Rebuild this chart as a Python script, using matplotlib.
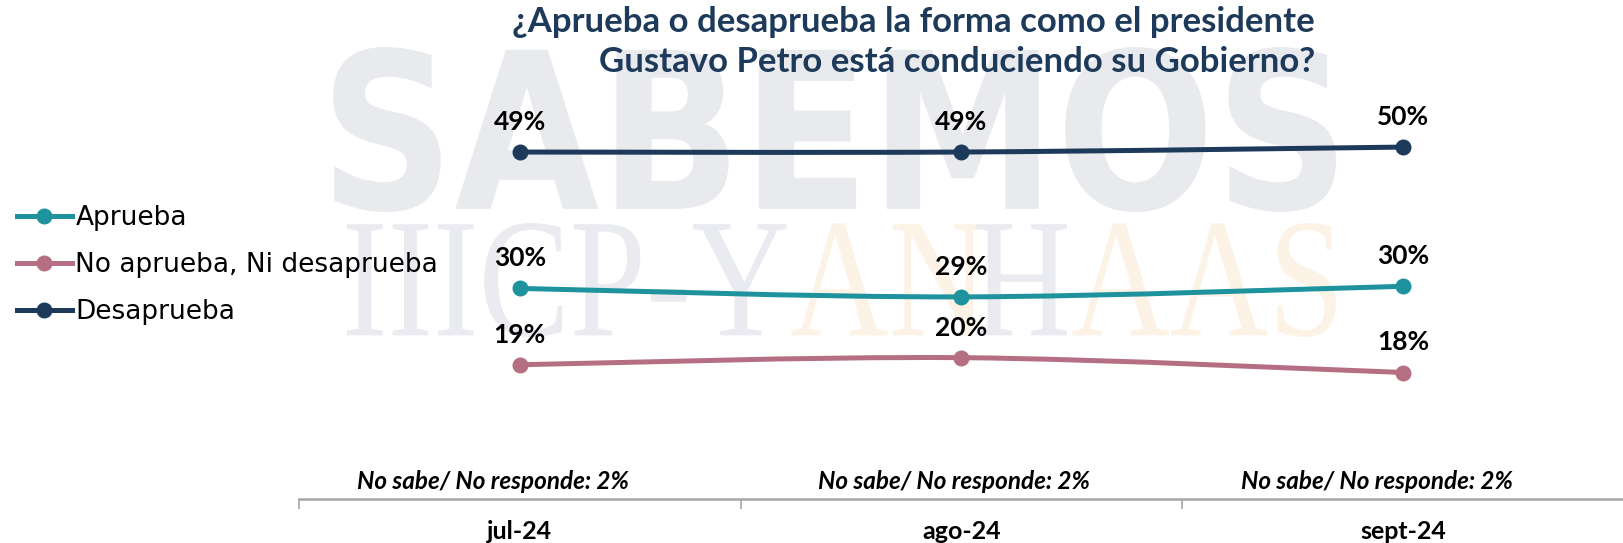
import matplotlib
matplotlib.use("Agg")
import matplotlib.pyplot as plt
from matplotlib.path import Path
from matplotlib.patches import PathPatch
from matplotlib.textpath import TextPath, text_to_path
from matplotlib.font_manager import FontProperties
from matplotlib.transforms import Affine2D
from matplotlib.lines import Line2D

# datos de la encuesta
meses = ["jul-24", "ago-24", "sept-24"]
aprueba = [29.8, 28.6, 30.1]
ni_ni = [19.0, 20.0, 17.9]
desaprueba = [49.1, 49.1, 49.8]
no_sabe = [2, 2, 2]

series = [
    ("Aprueba", aprueba, "#1E929D"),
    ("No aprueba, Ni desaprueba", ni_ni, "#B56F82"),
    ("Desaprueba", desaprueba, "#1D3A5A"),
]

titulo = "¿Aprueba o desaprueba la forma como el presidente\nGustavo Petro está conduciendo su Gobierno?"
FUENTE = "Lato"

W, H = 1624, 543
fig = plt.figure(figsize=(W / 100, H / 100), dpi=100)
fig.patch.set_facecolor("white")


def marca_agua(piezas, familia, peso, caja, z=-5):
    """Dibuja texto de fondo escalado dentro de una caja (pixeles, desde arriba)."""
    x0, y_top, x1, y_bot = caja
    prop = FontProperties(family=familia, weight=peso)
    texto = "".join(p for p, _ in piezas)
    total = TextPath((0, 0), texto, prop=prop, size=100)
    ext = total.get_extents()
    sx = (x1 - x0) / ext.width
    sy = (y_bot - y_top) / ext.height
    off = 0
    prefijo = ""
    for pieza, color in piezas:
        if prefijo:
            off = text_to_path.get_text_width_height_descent(prefijo, prop.copy(), ismath=False)[0]
            off = off * 100 / prop.get_size_in_points()
        tp = TextPath((off, 0), pieza, prop=prop, size=100)
        tr = Affine2D().translate(-ext.x0, -ext.y0).scale(sx, sy).translate(x0, H - y_bot)
        fig.add_artist(PathPatch(tr.transform_path(tp), facecolor=color, edgecolor="none",
                                 transform=None, zorder=z))
        prefijo += pieza


marca_agua([("SABEMOS", "#E8EAEE")], "DejaVu Sans", "bold", (333, 47, 1336, 212))
marca_agua([("IIICP-Y", "#EAEBF0"), ("AN", "#FDF2E6"), ("H", "#EAEBF0"), ("AAS", "#FDF2E6")],
           "Liberation Serif", "normal", (347, 223, 1336, 337))

ax = fig.add_axes([299 / W, (H - 499) / H, (W - 299) / W, (499 - 75) / H])
ax.set_facecolor("none")
ax.set_xlim(-0.5, 2.5)
ax.set_ylim(0, 60)


def curva(xs, ys):
    # curva suavizada tipo Excel (Bezier cubica)
    pts = list(zip(xs, ys))
    verts = [pts[0]]
    codes = [Path.MOVETO]
    for i in range(len(pts) - 1):
        p0 = pts[i - 1] if i > 0 else pts[i]
        p1 = pts[i]
        p2 = pts[i + 1]
        p3 = pts[i + 2] if i + 2 < len(pts) else p2
        c1 = (p1[0] + (p2[0] - p0[0]) / 6, p1[1] + (p2[1] - p0[1]) / 6)
        c2 = (p2[0] - (p3[0] - p1[0]) / 6, p2[1] - (p3[1] - p1[1]) / 6)
        verts += [c1, c2, p2]
        codes += [Path.CURVE4] * 3
    return Path(verts, codes)


x = list(range(len(meses)))
handles = []
for nombre, vals, color in series:
    ax.add_patch(PathPatch(curva(x, vals), facecolor="none", edgecolor=color, lw=3.6,
                           capstyle="round", zorder=3))
    ax.plot(x, vals, "o", color=color, ms=10.5, zorder=4)
    for xi, v in zip(x, vals):
        ax.annotate(f"{round(v)}%", (xi, v), xytext=(0, 13), textcoords="offset points",
                    ha="center", va="bottom", fontsize=19, fontweight="bold",
                    family=FUENTE, color="black")
    handles.append(Line2D([], [], color=color, lw=3.6, marker="o", ms=10.5, label=nombre))

# los cuadros de texto no quedan centrados exactamente sobre cada mes
desfase = [-0.06, -0.016, -0.06]
for xi, ns, d in zip(x, no_sabe, desfase):
    ax.text(xi + d, 0.9, f"No sabe/ No responde: {ns}%", ha="center", va="bottom",
            fontsize=17.5, fontweight="bold", style="italic", family=FUENTE)

for s in ["top", "right", "left"]:
    ax.spines[s].set_visible(False)
ax.spines["bottom"].set_color("#A6A6A6")
ax.spines["bottom"].set_linewidth(1.8)
ax.set_yticks([])
ax.set_xticks(x)
ax.set_xticklabels(meses, fontsize=18, fontweight="bold", family=FUENTE)
ax.tick_params(axis="x", which="major", length=0, pad=15)
ax.set_xticks([-0.5, 0.5, 1.5, 2.5], minor=True)
ax.tick_params(axis="x", which="minor", length=7, width=1.2, color="#A6A6A6")

fig.text(1315 / W, 1 - 6 / H, titulo, ha="right", va="top", multialignment="right",
         fontsize=25, fontweight="bold", family=FUENTE, color="#1D3A5A", linespacing=1.3)

fig.legend(handles=handles, loc="upper left", bbox_to_anchor=(-7 / W, 1 - 181 / H),
           frameon=False, handlelength=2.1, handletextpad=0.12,
           labelspacing=0.8, prop={"family": "DejaVu Sans", "size": 19})

fig.savefig("out.png", dpi=100)
